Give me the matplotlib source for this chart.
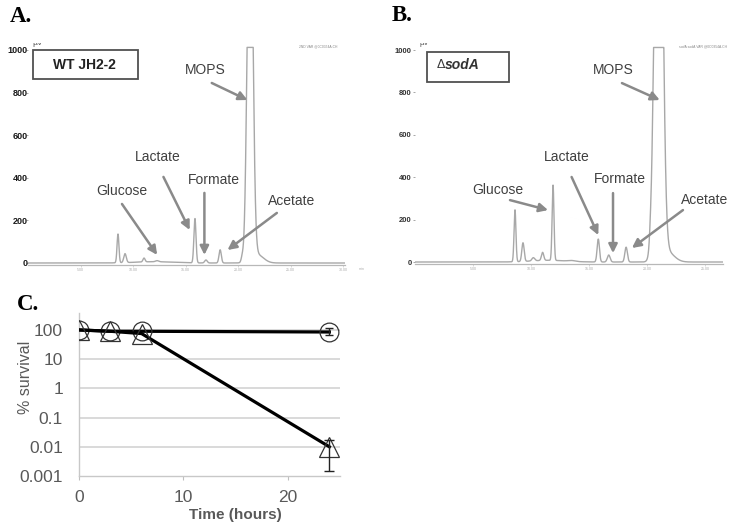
import numpy as np
import matplotlib
matplotlib.use('Agg')
import matplotlib.pyplot as plt
from matplotlib.patches import Rectangle

plt.rcParams['font.family'] = ['Liberation Sans', 'DejaVu Sans']

W, H = 740, 524

# ---------------- data ----------------
# Panel A (WT JH2-2) chromatogram peak table: retention (min), height (uV), sigma (min)
a_peak_time = [8.57, 9.24, 11.05, 12.3, 15.9, 16.95, 18.3, 20.4, 21.15, 21.8, 12.0]
a_peak_height = [135, 42, 18, 5, 208, 14, 62, 20, 2000, 40, 6]
a_peak_width = [0.09, 0.12, 0.1, 0.15, 0.1, 0.12, 0.11, 0.1, 0.25, 0.6, 1.8]
# Panel B (delta sodA)
b_peak_time = [8.62, 9.31, 10.2, 11.0, 11.9, 13.5, 15.8, 16.7, 18.2, 20.3, 21.0, 21.7, 11.5]
b_peak_height = [245, 88, 15, 38, 355, 4, 108, 33, 70, 38, 3000, 50, 8]
b_peak_width = [0.08, 0.1, 0.12, 0.1, 0.08, 0.3, 0.1, 0.12, 0.11, 0.09, 0.3, 0.6, 1.5]
detector_max = 1012

chrom_yticks = [0, 200, 400, 600, 800, 1000]
a_xticks = [5, 10, 15, 20, 25, 30]
b_xticks = [5, 10, 15, 20, 25]

# Panel C survival
time_h = [0, 3, 6, 24]
wt_surv = [100, 90, 90, 85]
wt_err_lo = [18]
wt_err_hi = [30]
sod_surv = [100, 90, 75, 0.01]
sod_err_lo = [0.0085]
sod_err_hi = [0.007]
c_yticks = [0.001, 0.01, 0.1, 1, 10, 100]
c_yticklabels = ['0.001', '0.01', '0.1', '1', '10', '100']
c_xticks = [0, 10, 20]

fig = plt.figure(figsize=(W / 100, H / 100), dpi=100)


def px_axes(left, top, right, bottom):
    return fig.add_axes([left / W, 1 - bottom / H, (right - left) / W, (bottom - top) / H])


def chrom(ax, times, heights, widths, xmax, xticks, tick_fs, tick_color, ypad):
    t = np.linspace(0, xmax, 4000)
    y = np.zeros_like(t)
    for c, h, w in zip(times, heights, widths):
        y += h * np.exp(-0.5 * ((t - c) / w) ** 2)
    y = np.minimum(y, detector_max)
    ax.plot(t, y, color='#a8a8a8', lw=1.0)
    ax.set_xlim(0, xmax)
    ax.set_ylim(-8, 1035)
    for s in ['top', 'right', 'left']:
        ax.spines[s].set_visible(False)
    ax.spines['bottom'].set_color('#b8b8b8')
    ax.spines['bottom'].set_linewidth(0.9)
    ax.set_yticks(chrom_yticks)
    ax.set_yticklabels([str(v) for v in chrom_yticks], fontsize=tick_fs, color=tick_color,
                       fontweight='bold')
    ax.tick_params(axis='y', length=1.5, width=0.6, color='#999999', pad=ypad)
    ax.set_xticks(xticks)
    ax.set_xticklabels(['%.2f' % v for v in xticks], fontsize=2.6, color='#aaaaaa')
    ax.tick_params(axis='x', length=1.5, width=0.4, color='#bbbbbb', pad=1)
    ax.patch.set_alpha(0)


def arrow(ax, start, end):
    ax.annotate('', xy=end, xytext=start, xycoords='data', textcoords='data',
                arrowprops=dict(arrowstyle='-|>', color='#8a8a8a', lw=1.8,
                                mutation_scale=13, shrinkA=0, shrinkB=0),
                annotation_clip=False)


def label(ax, x, y, s):
    ax.text(x, y, s, fontsize=10, color='#404040', ha='center', va='center', clip_on=False)


# ---------------- Panel A ----------------
axA = px_axes(28, 42.5, 345, 264.7)
xmaxA = 317 / 10.5
chrom(axA, a_peak_time, a_peak_height, a_peak_width, xmaxA, a_xticks, 6.5, '#1a1a1a', -1.5)
axA.text(0.4, 1030, 'µV', fontsize=6, color='#555555', va='center', ha='left', clip_on=True)
axA.text(27.6, 1019, '2ND VAR @0C0354A.CH', fontsize=2.4, color='#888888', ha='center',
         va='center', clip_on=False)
axA.text(31.5, -30, 'min', fontsize=2.6, color='#aaaaaa', ha='left', va='center', clip_on=False)
axA.add_patch(Rectangle((0.48, 864), 10.0, 136, fill=False, edgecolor='#505050', lw=1.3,
                        clip_on=False))
axA.text(5.4, 930, 'WT JH2-2', fontsize=10, fontweight='bold', color='#222222',
         ha='center', va='center')
label(axA, 16.9, 906, 'MOPS')
arrow(axA, (17.5, 845), (20.9, 765))
label(axA, 12.4, 498, 'Lactate')
arrow(axA, (12.9, 404), (15.4, 155))
label(axA, 8.9, 338, 'Glucose')
arrow(axA, (8.95, 277), (12.3, 38))
label(axA, 17.7, 390, 'Formate')
arrow(axA, (16.8, 329), (16.8, 38))
label(axA, 25.1, 291, 'Acetate')
arrow(axA, (23.7, 235), (19.0, 61))

# ---------------- Panel B ----------------
axB = px_axes(415, 42.6, 723, 263.7)
xmaxB = 308 / 11.6
chrom(axB, b_peak_time, b_peak_height, b_peak_width, xmaxB, b_xticks, 5.5, '#333333', 1)
axB.text(0.4, 1030, 'µV', fontsize=5.5, color='#555555', va='center', ha='left', clip_on=True)
axB.text(24.8, 1015, 'sodA sodA VAR @0C0354A.CH', fontsize=2.4, color='#888888',
         ha='center', va='center', clip_on=False)
axB.add_patch(Rectangle((1.03, 849), 7.07, 142, fill=False, edgecolor='#505050', lw=1.3,
                        clip_on=False))
axB.text(2.6, 927, 'Δ', fontsize=9, color='#333333', ha='right', va='center')
axB.text(2.6, 929, 'sodA', fontsize=10, fontweight='bold', fontstyle='italic',
         color='#333333', ha='left', va='center')
label(axB, 17.07, 906, 'MOPS')
arrow(axB, (17.84, 844), (21.1, 764))
label(axB, 13.1, 495, 'Lactate')
arrow(axB, (13.5, 401), (15.8, 127))
label(axB, 7.16, 340, 'Glucose')
arrow(axB, (8.19, 292), (11.47, 245))
label(axB, 17.67, 392, 'Formate')
arrow(axB, (17.07, 325), (17.07, 42))
label(axB, 25.0, 292, 'Acetate')
arrow(axB, (23.1, 245), (18.7, 66))

# ---------------- Panel C ----------------
axC = px_axes(79, 313, 339.8, 476)
axC.set_yscale('log')
axC.set_xlim(0, 25)
axC.set_ylim(0.001, 380)
axC.set_yticks(c_yticks)
axC.set_yticklabels(c_yticklabels)
axC.yaxis.set_minor_locator(matplotlib.ticker.NullLocator())
axC.set_xticks(c_xticks)
axC.tick_params(axis='y', length=0, pad=11.5, labelsize=12.5, labelcolor='#595959')
axC.tick_params(axis='x', length=3, width=0.8, color='#bfbfbf', pad=7, labelsize=12.5,
                labelcolor='#595959')
for s in ['top', 'right']:
    axC.spines[s].set_visible(False)
for s in ['left', 'bottom']:
    axC.spines[s].set_color('#c8c8c8')
    axC.spines[s].set_linewidth(1.0)
for v in c_yticks[1:]:
    axC.axhline(v, color='#d9d9d9', lw=1.4, zorder=0)

axC.plot(time_h, wt_surv, color='black', lw=2.3, zorder=3, marker='o', ms=13.5,
         mfc='none', mec='#333333', mew=0.9)
axC.plot(time_h, sod_surv, color='black', lw=2.3, zorder=3, marker='^', ms=14,
         mfc='none', mec='#333333', mew=0.9)
axC.errorbar(time_h[-1:], wt_surv[-1:], yerr=[wt_err_lo, wt_err_hi], fmt='none',
             ecolor='#222222', elinewidth=1.0, capsize=3, capthick=1.0, zorder=4)
axC.errorbar(time_h[-1:], sod_surv[-1:], yerr=[sod_err_lo, sod_err_hi], fmt='none',
             ecolor='#222222', elinewidth=1.0, capsize=3.5, capthick=1.0, zorder=4)
axC.set_ylabel('% survival', fontsize=11.5, color='#595959', va='center')
axC.yaxis.set_label_coords(-0.207, 0.607)
axC.set_xlabel('Time (hours)', fontsize=11, fontweight='bold', color='#595959', va='center')
axC.xaxis.set_label_coords(0.598, -0.239)

# ---------------- panel letters ----------------
for s, x, y in [('A.', 10, 22), ('B.', 392, 21), ('C.', 17, 310)]:
    fig.text(x / W, 1 - y / H, s, fontsize=16.5, fontweight='bold',
             family=['Liberation Serif', 'DejaVu Serif'], va='baseline', ha='left')

fig.savefig('out.png', dpi=100)
